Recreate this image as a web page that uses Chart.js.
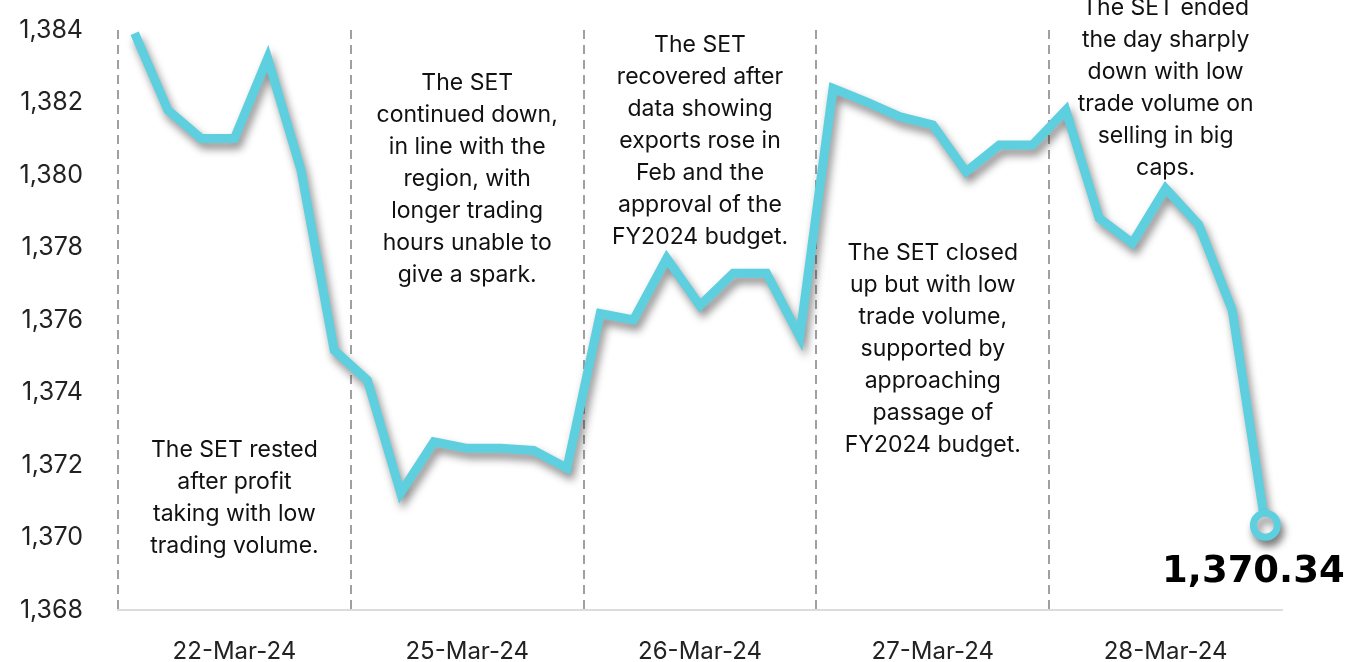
<!DOCTYPE html>
<html>
<head>
<meta charset="utf-8">
<script src="https://cdn.jsdelivr.net/npm/chart.js@4"></script>
<style>
  html, body { margin: 0; padding: 0; background: #fff; }
  #wrap { width: 1350px; height: 662px; }
</style>
</head>
<body>
<div id="wrap"><canvas id="chart" width="1350" height="662"></canvas></div>
<script>
// trading days shown on the x axis
const days = ["22-Mar-24", "25-Mar-24", "26-Mar-24", "27-Mar-24", "28-Mar-24"];

// SET index, 7 readings per day
const set22 = [1383.91, 1381.79, 1381.01, 1381.01, 1383.22, 1380.14, 1375.17];
const set25 = [1374.34, 1371.23, 1372.64, 1372.46, 1372.46, 1372.40, 1371.91];
const set26 = [1376.18, 1376.00, 1377.70, 1376.40, 1377.29, 1377.29, 1375.54];
const set27 = [1382.39, 1382.02, 1381.61, 1381.38, 1380.09, 1380.83, 1380.83];
const set28 = [1381.79, 1378.81, 1378.12, 1379.63, 1378.62, 1376.28, 1370.34];

const yTicks = [1368, 1370, 1372, 1374, 1376, 1378, 1380, 1382, 1384];

const notes = [
    ["The SET rested", "after profit", "taking with low", "trading volume."],
    ["The SET", "continued down,", "in line with the", "region, with", "longer trading", "hours unable to", "give a spark."],
    ["The SET", "recovered after", "data showing", "exports rose in", "Feb and the", "approval of the", "FY2024 budget."],
    ["The SET closed", "up but with low", "trade volume,", "supported by", "approaching", "passage of", "FY2024 budget."],
    ["The SET ended", "the day sharply", "down with low", "trade volume on", "selling in big", "caps."]
];

const lastLabel = "1,370.34";

// build flat series
const perDay = [set22, set25, set26, set27, set28];
const labels = [];
const values = [];
perDay.forEach((arr, d) => {
    arr.forEach((v, i) => {
        labels.push(days[d] + " #" + (i + 1));
        values.push(v);
    });
});
const PER_DAY = set22.length;
const LINE = "#5dcfdf";
const FONT = "Inter, 'Noto Sans', sans-serif";

// where the first text line of each note sits (in index units)
const noteTop = [1372.41, 1382.54, 1383.59, 1377.85, 1384.61];

const shadowPlugin = {
    id: "shadow",
    beforeDatasetsDraw(chart) {
        const c = chart.ctx;
        c.save();
        c.shadowColor = "rgba(0,0,0,0.45)";
        c.shadowBlur = 8;
        c.shadowOffsetX = 3;
        c.shadowOffsetY = 6;
    },
    afterDatasetsDraw(chart) {
        chart.ctx.restore();
    }
};

const notesPlugin = {
    id: "notes",
    afterDraw(chart) {
        const c = chart.ctx;
        const xs = chart.scales.x, ys = chart.scales.y;
        c.save();
        c.fillStyle = "#111";
        c.font = "23px " + FONT;
        c.textAlign = "center";
        c.textBaseline = "middle";
        notes.forEach((lines, d) => {
            const cx = xs.getPixelForValue(d * PER_DAY + 3);
            const top = ys.getPixelForValue(noteTop[d]);
            lines.forEach((t, k) => c.fillText(t, cx, top + k * 32));
        });

        // closing value under the last point
        const meta = chart.getDatasetMeta(0);
        const p = meta.data[meta.data.length - 1];
        c.font = "bold 37px 'DejaVu Sans', sans-serif";
        c.fillStyle = "#000";
        c.fillText(lastLabel, p.x - 12, p.y + 47);
        c.restore();
    }
};

const n = values.length;

new Chart(document.getElementById("chart").getContext("2d"), {
    type: "line",
    data: {
        labels: labels,
        datasets: [{
            data: values,
            borderColor: LINE,
            borderWidth: 9,
            borderJoinStyle: "miter",
            tension: 0,
            pointRadius: ctx => ctx.dataIndex === n - 1 ? 12 : 0,
            pointBackgroundColor: "#fff",
            pointBorderColor: LINE,
            pointBorderWidth: 7,
            clip: false
        }]
    },
    options: {
        responsive: false,
        animation: false,
        layout: { padding: { top: 30, right: 68, left: 0, bottom: 0 } },
        plugins: {
            legend: { display: false },
            tooltip: { enabled: false }
        },
        scales: {
            x: {
                type: "category",
                offset: true,
                grid: {
                    offset: true,
                    drawTicks: false,
                    color: ctx => (ctx.index % PER_DAY === 0) ? "#a0a0a0" : "rgba(0,0,0,0)",
                    lineWidth: 2
                },
                border: { display: true, color: "#dcdcdc", width: 2, dash: [9, 6] },
                ticks: {
                    autoSkip: false,
                    maxRotation: 0,
                    padding: 27,
                    color: "#222",
                    font: { family: FONT, size: 24 },
                    callback: (v, i) => (i % PER_DAY === 3) ? days[Math.floor(i / PER_DAY)] : ""
                },
                afterFit: s => { s.height = 52; }
            },
            y: {
                min: yTicks[0],
                max: yTicks[yTicks.length - 1],
                afterBuildTicks: s => { s.ticks = yTicks.map(v => ({ value: v })); },
                grid: { display: false, drawTicks: true, tickLength: 35 },
                border: { display: false },
                ticks: {
                    padding: 0,
                    color: "#222",
                    font: { family: FONT, size: 25 },
                    callback: v => v.toLocaleString("en-US")
                },
                afterFit: s => { s.width = 118; }
            }
        }
    },
    plugins: [shadowPlugin, notesPlugin]
});
</script>
</body>
</html>
